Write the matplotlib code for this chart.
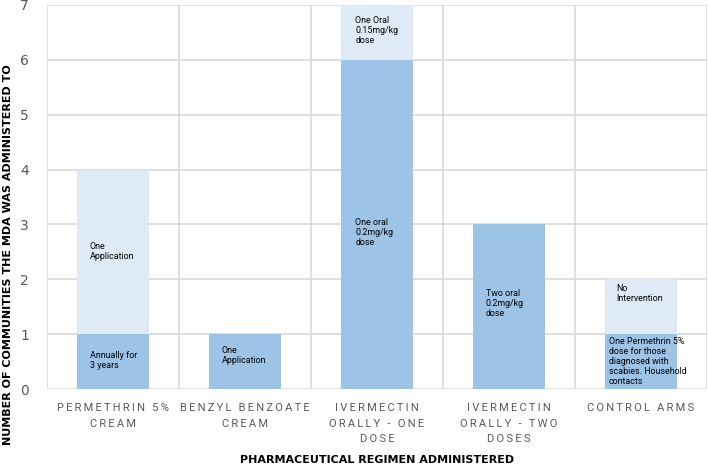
import numpy as np
import matplotlib
matplotlib.use("Agg")
import matplotlib.pyplot as plt

# regimens along the x axis
regimens = ["PERMETHRIN 5%\nCREAM", "BENZYL BENZOATE\nCREAM",
            "IVERMECTIN\nORALLY - ONE\nDOSE", "IVERMECTIN\nORALLY - TWO\nDOSES",
            "CONTROL ARMS"]
lower = [1, 1, 6, 3, 1]
upper = [3, 0, 1, 0, 1]

lower_notes = ["Annually for\n3 years", "One\nApplication", "One oral\n0.2mg/kg\ndose",
               "Two oral\n0.2mg/kg\ndose",
               "One Permethrin 5%\ndose for those\ndiagnosed with\nscabies. Household\ncontacts"]
lower_note_y = [0.7, 0.78, 3.12, 1.82, 0.95]
lower_note_dx = [0.10, 0.10, 0.11, 0.10, 0.03]
upper_notes = ["One\nApplication", "", "One Oral\n0.15mg/kg\ndose", "", "No\nIntervention"]
upper_note_y = [2.68, 0, 6.8, 0, 1.92]
upper_note_dx = [0.10, 0, 0.11, 0, 0.09]

dark = "#9dc3e6"
light = "#deebf7"
grid_col = "#d9d9d9"
txt_grey = "#595959"


def spaced(label):
    # the original has wide letter spacing on the category names
    return "\n".join("\u2009".join(line) for line in label.split("\n"))


fig = plt.figure(figsize=(7.08, 4.66), dpi=100)
ax = fig.add_axes([0.0664, 0.1652, 0.932, 0.8241])

x = np.arange(len(regimens))
w = 0.55
ax.bar(x, lower, width=w, color=dark, zorder=2)
ax.bar(x, upper, width=w, bottom=lower, color=light, zorder=2)

left = x - w / 2
note_kw = dict(fontsize=6.4, family="Roboto", va="top", ha="left",
               linespacing=1.15, zorder=3)
for i in range(len(regimens)):
    ax.text(left[i] + lower_note_dx[i], lower_note_y[i], lower_notes[i], **note_kw)
    if upper_notes[i]:
        ax.text(left[i] + upper_note_dx[i], upper_note_y[i], upper_notes[i], **note_kw)

ax.set_xlim(-0.5, len(regimens) - 0.5)
ax.set_ylim(0, 7)
ax.set_yticks(range(8))
ax.set_xticks(x)
ax.set_xticklabels([spaced(r) for r in regimens], fontsize=8, family="Roboto",
                   color=txt_grey, linespacing=1.7)
ax.set_xticks(np.arange(-0.5, len(regimens)), minor=True)
ax.tick_params(axis="y", length=0, pad=13, labelsize=10, labelcolor=txt_grey)
ax.tick_params(axis="x", which="both", length=0, pad=10)
ax.grid(axis="y", color=grid_col, linewidth=1.2, zorder=0)
ax.grid(axis="x", which="minor", color=grid_col, linewidth=1.2, zorder=0)
for s in ax.spines.values():
    s.set_visible(False)

fig.text(0.012, 0.453, "NUMBER OF COMMUNITIES THE MDA WAS ADMINISTERED TO",
         rotation=90, fontsize=8, fontweight="bold", ha="center", va="center")
fig.text(0.533, 0.013, "PHARMACEUTICAL REGIMEN ADMINISTERED",
         fontsize=8, fontweight="bold", ha="center", va="center")

fig.savefig("out.png", dpi=100)
